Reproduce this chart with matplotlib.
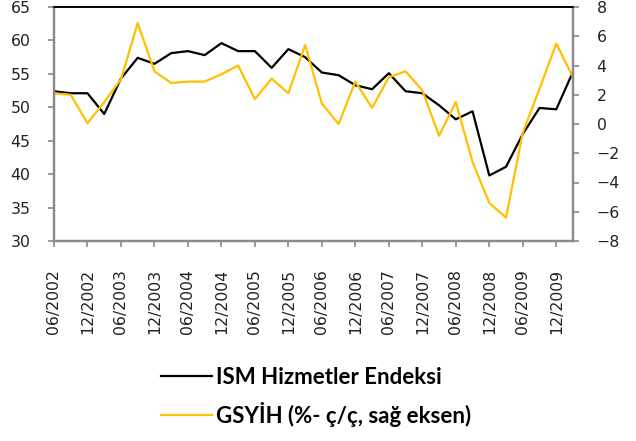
import matplotlib
matplotlib.use('Agg')
import matplotlib.pyplot as plt
import matplotlib.transforms as mtransforms
import numpy as np

plt.rcParams['font.family'] = ['DejaVu Sans']

# quarterly data, 06/2002 .. 03/2010
ism = [52.4, 52.1, 52.1, 49.0, 54.3, 57.4, 56.5, 58.1, 58.4, 57.8, 59.6, 58.4,
       58.4, 55.9, 58.7, 57.5, 55.2, 54.8, 53.3, 52.7, 55.1, 52.4, 52.1, 50.3,
       48.2, 49.4, 39.8, 41.1, 46.0, 49.9, 49.7, 55.3]
gdp = [2.1, 2.0, 0.05, 1.5, 3.05, 6.9, 3.6, 2.8, 2.9, 2.9, 3.4, 4.0,
       1.7, 3.1, 2.1, 5.4, 1.4, 0.0, 2.9, 1.1, 3.2, 3.6, 2.3, -0.8,
       1.5, -2.6, -5.4, -6.4, -0.6, 2.4, 5.5, 3.2]
tick_labels = ['06/2002', '12/2002', '06/2003', '12/2003', '06/2004', '12/2004',
               '06/2005', '12/2005', '06/2006', '12/2006', '06/2007', '12/2007',
               '06/2008', '12/2008', '06/2009', '12/2009']

x = np.arange(len(ism))
gray = '#8a8a8a'
gold = '#FFC000'

fig = plt.figure(figsize=(6.36, 4.41), dpi=100)
ax = fig.add_axes([54/636, 1-241/441, (573-54)/636, (241-7)/441])
ax2 = ax.twinx()

l1, = ax.plot(x, ism, color='black', lw=1.6, label='ISM Hizmetler Endeksi')
l2, = ax2.plot(x, gdp, color=gold, lw=1.6, label='GSYİH (%- ç/ç, sağ eksen)')

ax.set_xlim(0, len(ism) - 1)
ax.set_ylim(30, 65)
ax.set_yticks(range(30, 66, 5))
ax2.set_ylim(-8, 8)
ax2.set_yticks(range(-8, 9, 2))

ax.set_xticks(x[::2])
ax.set_xticklabels(tick_labels, rotation=90, fontsize=11.3, color='#222222')
offset = mtransforms.ScaledTranslation(4/100, 0, fig.dpi_scale_trans)
for lab in ax.get_xticklabels():
    lab.set_transform(lab.get_transform() + offset)

for a in (ax, ax2):
    for s in ('left', 'right', 'bottom'):
        a.spines[s].set_color(gray)
        a.spines[s].set_linewidth(1.6)
    a.spines['top'].set_color('black')
    a.spines['top'].set_linewidth(1.2)

ax.tick_params(axis='y', direction='out', length=4, width=1.2, color=gray,
               labelsize=11.3, pad=13, labelcolor='#222222')
ax.tick_params(axis='x', direction='out', length=4, width=1.2, color=gray, pad=16)
ax2.tick_params(axis='y', direction='out', length=4, width=1.2, color=gray,
                labelsize=11.3, pad=13, labelcolor='#222222')

leg = fig.legend(handles=[l1, l2], loc='center', bbox_to_anchor=(0.497, 0.1),
                 frameon=False, ncol=1,
                 prop={'family': 'Lato', 'weight': 'bold', 'size': 16},
                 handlelength=2.3, handletextpad=0.15, labelspacing=0.6)
for line in leg.get_lines():
    line.set_linewidth(1.6)

fig.savefig('out.png', dpi=100)
